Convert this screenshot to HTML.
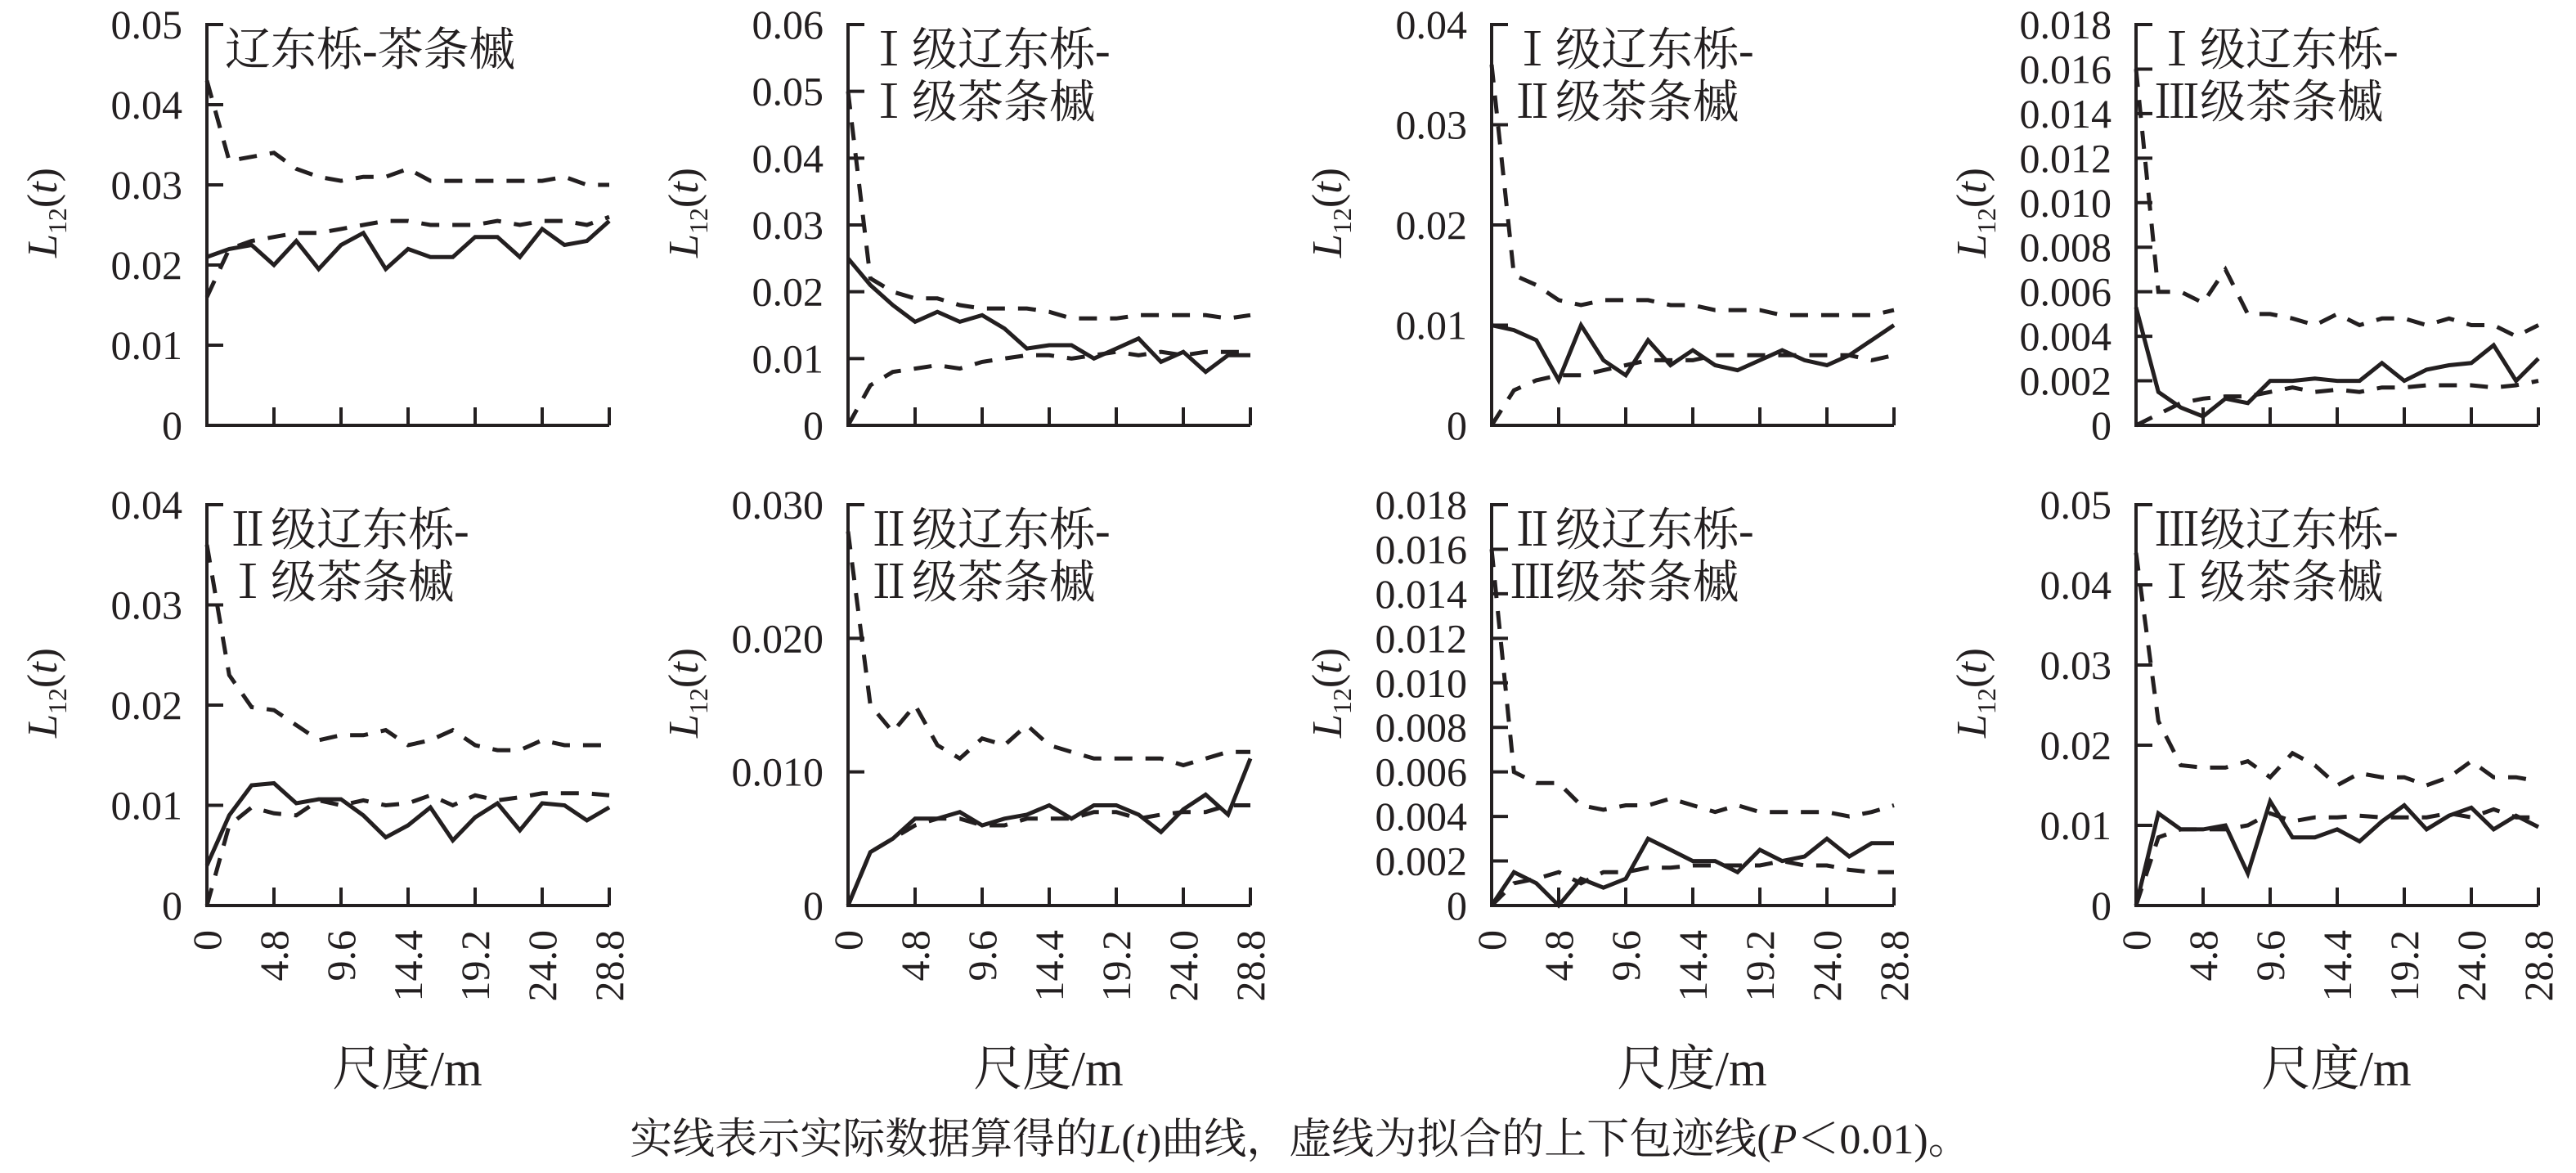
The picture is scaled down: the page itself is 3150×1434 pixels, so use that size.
<!DOCTYPE html>
<html><head><meta charset="utf-8"><style>
html,body{margin:0;padding:0;background:#fff;}
svg{display:block;}
text{font-family:"Liberation Serif","Noto Serif CJK SC","Noto Sans CJK SC",serif;fill:#231f20;}
</style></head><body>
<svg id="s" width="3150" height="1434" viewBox="0 0 3150 1434" xmlns="http://www.w3.org/2000/svg"></svg>
<script>
const S=document.getElementById('s');
let h='';
const panels=[
{x0:253,top:30,bot:520,max:0.05,ticks:[0,0.01,0.02,0.03,0.04,0.05],lab:['0','0.01','0.02','0.03','0.04','0.05'],t:['辽东栎-茶条槭'],
s:[0.021,0.022,0.0225,0.020,0.023,0.0195,0.0225,0.024,0.0195,0.022,0.021,0.021,0.0235,0.0235,0.021,0.0245,0.0225,0.023,0.0255],
u:[0.043,0.033,0.0335,0.034,0.032,0.031,0.0305,0.031,0.031,0.032,0.0305,0.0305,0.0305,0.0305,0.0305,0.0305,0.031,0.030,0.030],
l:[0.016,0.022,0.023,0.0235,0.024,0.024,0.0245,0.025,0.0255,0.0255,0.025,0.025,0.025,0.0255,0.025,0.0255,0.0255,0.025,0.026]},
{x0:1037,top:30,bot:520,max:0.06,ticks:[0,0.01,0.02,0.03,0.04,0.05,0.06],lab:['0','0.01','0.02','0.03','0.04','0.05','0.06'],t:['Ⅰ级辽东栎-','Ⅰ级茶条槭'],
s:[0.025,0.021,0.018,0.0155,0.017,0.0155,0.0165,0.0145,0.0115,0.012,0.012,0.010,0.0115,0.013,0.0095,0.011,0.008,0.0105,0.0105],
u:[0.05,0.022,0.020,0.019,0.019,0.018,0.0175,0.0175,0.0175,0.017,0.016,0.016,0.016,0.0165,0.0165,0.0165,0.0165,0.016,0.0165],
l:[0,0.006,0.008,0.0085,0.009,0.0085,0.0095,0.010,0.0105,0.0105,0.010,0.0105,0.011,0.0105,0.011,0.0105,0.011,0.011,0.011]},
{x0:1824,top:30,bot:520,max:0.04,ticks:[0,0.01,0.02,0.03,0.04],lab:['0','0.01','0.02','0.03','0.04'],t:['Ⅰ级辽东栎-','Ⅱ级茶条槭'],
s:[0.010,0.0095,0.0085,0.0045,0.010,0.0065,0.005,0.0085,0.006,0.0075,0.006,0.0055,0.0065,0.0075,0.0065,0.006,0.007,0.0085,0.010],
u:[0.036,0.015,0.014,0.0125,0.012,0.0125,0.0125,0.0125,0.012,0.012,0.0115,0.0115,0.0115,0.011,0.011,0.011,0.011,0.011,0.0115],
l:[0,0.0035,0.0045,0.005,0.005,0.0055,0.006,0.0065,0.0065,0.0065,0.007,0.007,0.007,0.007,0.007,0.007,0.007,0.0065,0.007]},
{x0:2612,top:30,bot:520,max:0.018,ticks:[0,.002,.004,.006,.008,.010,.012,.014,.016,.018],lab:['0','0.002','0.004','0.006','0.008','0.010','0.012','0.014','0.016','0.018'],t:['Ⅰ级辽东栎-','Ⅲ级茶条槭'],
s:[0.0053,0.0015,0.0008,0.0004,0.0012,0.001,0.002,0.002,0.0021,0.002,0.002,0.0028,0.002,0.0025,0.0027,0.0028,0.0036,0.002,0.003],
u:[0.016,0.006,0.006,0.0055,0.007,0.005,0.005,0.0048,0.0045,0.005,0.0045,0.0048,0.0048,0.0045,0.0048,0.0045,0.0045,0.004,0.0045],
l:[0,0.0005,0.001,0.0012,0.0013,0.0013,0.0015,0.0017,0.0015,0.0016,0.0015,0.0017,0.0017,0.0018,0.0018,0.0018,0.0017,0.0018,0.002]},
{x0:253,top:617,bot:1107,max:0.04,ticks:[0,0.01,0.02,0.03,0.04],lab:['0','0.01','0.02','0.03','0.04'],t:['Ⅱ级辽东栎-','Ⅰ级茶条槭'],xl:1,
s:[0.004,0.009,0.012,0.0122,0.0102,0.0106,0.0106,0.009,0.0068,0.008,0.0098,0.0065,0.0088,0.0102,0.0075,0.0102,0.010,0.0085,0.0098],
u:[0.036,0.023,0.0198,0.0195,0.018,0.0165,0.017,0.017,0.0175,0.016,0.0165,0.0175,0.016,0.0155,0.0155,0.0165,0.016,0.016,0.016],
l:[0,0.008,0.0098,0.0092,0.009,0.0105,0.010,0.0105,0.010,0.0102,0.011,0.0100,0.011,0.0105,0.0108,0.0112,0.0112,0.0112,0.011]},
{x0:1037,top:617,bot:1107,max:0.03,ticks:[0,0.01,0.02,0.03],lab:['0','0.010','0.020','0.030'],t:['Ⅱ级辽东栎-','Ⅱ级茶条槭'],xl:1,
s:[0,0.004,0.005,0.0065,0.0065,0.007,0.006,0.0065,0.0068,0.0075,0.0065,0.0075,0.0075,0.0068,0.0055,0.0072,0.0083,0.0068,0.011],
u:[0.028,0.015,0.013,0.015,0.012,0.011,0.0125,0.012,0.0135,0.012,0.0115,0.011,0.011,0.011,0.011,0.0105,0.011,0.0115,0.0115],
l:[0,0.004,0.005,0.006,0.0065,0.0065,0.006,0.006,0.0065,0.0065,0.0065,0.007,0.007,0.0065,0.0068,0.007,0.007,0.0075,0.0075]},
{x0:1824,top:617,bot:1107,max:0.018,ticks:[0,.002,.004,.006,.008,.010,.012,.014,.016,.018],lab:['0','0.002','0.004','0.006','0.008','0.010','0.012','0.014','0.016','0.018'],t:['Ⅱ级辽东栎-','Ⅲ级茶条槭'],xl:1,
s:[0,0.0015,0.001,0,0.0012,0.0008,0.0012,0.003,0.0025,0.002,0.002,0.0015,0.0025,0.002,0.0022,0.003,0.0022,0.0028,0.0028],
u:[0.016,0.006,0.0055,0.0055,0.0045,0.0043,0.0045,0.0045,0.0048,0.0045,0.0042,0.0045,0.0042,0.0042,0.0042,0.0042,0.004,0.0042,0.0045],
l:[0,0.001,0.0012,0.0015,0.001,0.0015,0.0015,0.0017,0.0017,0.0018,0.0018,0.0018,0.0018,0.002,0.0018,0.0018,0.0016,0.0015,0.0015]},
{x0:2612,top:617,bot:1107,max:0.05,ticks:[0,0.01,0.02,0.03,0.04,0.05],lab:['0','0.01','0.02','0.03','0.04','0.05'],t:['Ⅲ级辽东栎-','Ⅰ级茶条槭'],xl:1,
s:[0,0.0115,0.0095,0.0095,0.010,0.004,0.013,0.0085,0.0085,0.0095,0.008,0.0105,0.0125,0.0095,0.0112,0.0122,0.0095,0.0112,0.0098],
u:[0.044,0.023,0.0175,0.0172,0.0172,0.018,0.016,0.019,0.0175,0.015,0.0165,0.016,0.016,0.015,0.016,0.018,0.016,0.016,0.0155],
l:[0,0.0085,0.0095,0.0095,0.0095,0.010,0.0115,0.0105,0.011,0.011,0.0112,0.011,0.011,0.011,0.0115,0.011,0.012,0.011,0.011]}
];
const W=492;
panels.forEach(p=>{
 const x0=p.x0,x1=x0+W,Y=v=>p.bot-(v/p.max)*(p.bot-p.top),X=i=>x0+i*W/18;
 h+=`<path d="M${x0+20} ${p.top}H${x0}V${p.bot}H${x1}" fill="none" stroke="#231f20" stroke-width="4"/>`;
 p.ticks.forEach((t,i)=>{const y=Y(t);
  if(i>0&&i<p.ticks.length-1)h+=`<line x1="${x0}" y1="${y}" x2="${x0+20}" y2="${y}" stroke="#231f20" stroke-width="4"/>`;
  h+=`<text x="${x0-30}" y="${y+17}" font-size="50" text-anchor="end">${p.lab[i]}</text>`;});
 for(let k=1;k<=6;k++){const x=x0+k*W/6;h+=`<line x1="${x}" y1="${p.bot}" x2="${x}" y2="${p.bot-22}" stroke="#231f20" stroke-width="4"/>`;}
 if(p.xl){['0','4.8','9.6','14.4','19.2','24.0','28.8'].forEach((l,k)=>{const x=x0+k*W/6;
  h+=`<text transform="translate(${x+17},${p.bot+30}) rotate(-90)" font-size="50" text-anchor="end">${l}</text>`;});
  h+=`<text x="${x0+245}" y="${p.bot+220}" font-size="60" text-anchor="middle">尺度/m</text>`;}
 const cy=(p.top+p.bot)/2-15;
 h+=`<text transform="translate(${x0-184},${cy}) rotate(-90)" font-size="52" text-anchor="middle"><tspan font-style="italic">L</tspan><tspan font-size="32" dy="12">12</tspan><tspan dy="-12">(</tspan><tspan font-style="italic">t</tspan>)</text>`;
 p.t.forEach((t,i)=>{h+=`<text x="${x0+22}" y="${p.top+50+i*64}" font-size="56">${t}</text>`;});
 const pts=a=>a.map((v,i)=>X(i).toFixed(1)+','+Y(v).toFixed(1)).join(' ');
 h+=`<polyline points="${pts(p.u)}" fill="none" stroke="#231f20" stroke-width="5" stroke-dasharray="22 16"/>`;
 h+=`<polyline points="${pts(p.l)}" fill="none" stroke="#231f20" stroke-width="5" stroke-dasharray="22 16"/>`;
 h+=`<polyline points="${pts(p.s)}" fill="none" stroke="#231f20" stroke-width="5" stroke-linejoin="miter"/>`;
});
h+=`<text x="1590" y="1410" font-size="52" text-anchor="middle">实线表示实际数据算得的<tspan font-style="italic">L</tspan>(<tspan font-style="italic">t</tspan>)曲线，虚线为拟合的上下包迹线(<tspan font-style="italic">P</tspan>＜0.01)。</text>`;
S.innerHTML=h;
</script>
</body></html>
